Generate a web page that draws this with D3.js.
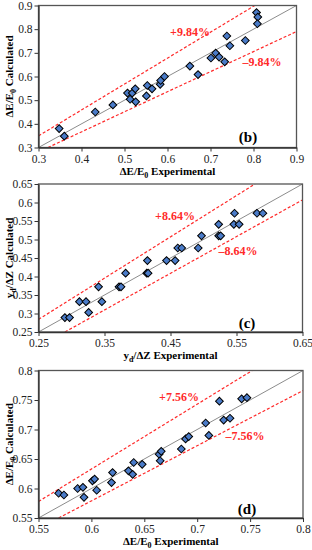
<!DOCTYPE html>
<html>
<head>
<meta charset="utf-8">
<script src="https://cdn.jsdelivr.net/npm/d3@7"></script>
<style>
body { margin: 0; background: #fff; }
svg { display: block; }
</style>
</head>
<body>
<svg width="312" height="550"></svg>
<script>
// panel (b): dE/E0
var ptsB = [
    [0.348,0.380],[0.360,0.348],[0.432,0.450],[0.473,0.480],[0.507,0.530],[0.513,0.504],
    [0.518,0.530],[0.525,0.548],[0.526,0.493],[0.551,0.518],[0.553,0.562],[0.564,0.548],
    [0.583,0.567],[0.584,0.583],[0.593,0.600],[0.652,0.644],[0.671,0.608],[0.701,0.678],
    [0.712,0.699],[0.720,0.682],[0.733,0.662],[0.738,0.771],[0.745,0.730],[0.781,0.752],
    [0.807,0.870],[0.810,0.851],[0.809,0.823]
];
var bandB = { upper: [[0.3,0.349],[0.803,0.9]], lower: [[0.322,0.3],[0.9,0.79]] };
var ticksB = [0.3,0.4,0.5,0.6,0.7,0.8,0.9];

// panel (c): yd/dZ
var ptsC = [
    [0.290,0.289],[0.297,0.289],[0.312,0.332],[0.322,0.332],[0.326,0.303],[0.341,0.372],
    [0.346,0.332],[0.372,0.372],[0.375,0.372],[0.382,0.409],[0.414,0.409],[0.416,0.409],
    [0.415,0.443],[0.444,0.443],[0.457,0.443],[0.461,0.477],[0.467,0.477],[0.492,0.477],
    [0.497,0.510],[0.523,0.510],[0.526,0.510],[0.523,0.541],[0.546,0.541],[0.554,0.541],
    [0.547,0.571],[0.581,0.571],[0.590,0.571]
];
var bandC = { upper: [[0.25,0.284],[0.578,0.65]], lower: [[0.29,0.25],[0.65,0.607]] };
var xTicksC = [0.25,0.35,0.45,0.55,0.65];
var yTicksC = [0.25,0.3,0.35,0.4,0.45,0.5,0.55,0.6,0.65];

// panel (d): dE/E0
var ptsD = [
    [0.569,0.592],[0.574,0.589],[0.587,0.600],[0.592,0.602],[0.593,0.585],[0.601,0.613],
    [0.603,0.616],[0.605,0.597],[0.619,0.610],[0.620,0.627],[0.635,0.630],[0.639,0.624],
    [0.640,0.644],[0.648,0.641],[0.664,0.658],[0.666,0.663],[0.665,0.647],[0.685,0.667],
    [0.689,0.684],[0.692,0.688],[0.708,0.711],[0.711,0.690],[0.721,0.748],[0.725,0.716],
    [0.731,0.719],[0.742,0.752],[0.747,0.754]
];
var bandD = { upper: [[0.55,0.578],[0.752,0.8]], lower: [[0.569,0.55],[0.8,0.766]] };
var xTicksD = [0.55,0.6,0.65,0.7,0.75,0.8];
var yTicksD = [0.55,0.6,0.65,0.7,0.75,0.8];

var svg = d3.select("svg");
var serif = "Times New Roman, Liberation Serif, DejaVu Serif, serif";

function fmt(d) {return String(+d.toFixed(2));}

// label with subscript parts: [text, isSub]
function richText(sel, parts, tail) {
    var sub = false;
    parts.forEach(function (p) {
        var t = sel.append("tspan").text(p[0]);
        if (p[1] && !sub) { t.attr("dy", 3).attr("font-size", 8); sub = true; }
        else if (!p[1] && sub) { t.attr("dy", -3); sub = false; }
    });
    var last = sel.append("tspan").text(tail);
    if (sub) last.attr("dy", -3);
}

function panel(cfg) {
    var x = d3.scaleLinear().domain(cfg.xDom).range([cfg.left, cfg.right]);
    var y = d3.scaleLinear().domain(cfg.yDom).range([cfg.bottom, cfg.top]);
    var g = svg.append("g").attr("font-family", serif);

    var clipId = "clip" + cfg.tag;
    svg.append("defs").append("clipPath").attr("id", clipId)
        .append("rect")
        .attr("x", cfg.left).attr("y", cfg.top)
        .attr("width", cfg.right - cfg.left).attr("height", cfg.bottom - cfg.top);

    var inner = g.append("g").attr("clip-path", "url(#" + clipId + ")");
    var line = d3.line().x(function (d) {return x(d[0]);}).y(function (d) {return y(d[1]);});

    // 1:1 line
    inner.append("path")
        .attr("d", line([[cfg.xDom[0], cfg.yDom[0]], [cfg.xDom[1], cfg.yDom[1]]]))
        .attr("stroke", "#8c8c8c").attr("stroke-width", 1).attr("fill", "none");

    [cfg.band.upper, cfg.band.lower].forEach(function (b) {
        inner.append("path")
            .attr("d", line(b))
            .attr("stroke", "#ff2a2a").attr("stroke-width", 1.2)
            .attr("stroke-dasharray", "3,2").attr("fill", "none");
    });

    inner.selectAll(".pt")
        .data(cfg.pts)
        .enter()
        .append("path")
        .attr("class", "pt")
        .attr("d", d3.symbol().type(d3.symbolSquare).size(30))
        .attr("transform", function (d) {return "translate(" + x(d[0]) + "," + y(d[1]) + ") rotate(45)";})
        .attr("fill", "#4a7bc8").attr("stroke", "#000").attr("stroke-width", 1);

    // frame
    g.append("rect")
        .attr("x", cfg.left).attr("y", cfg.top)
        .attr("width", cfg.right - cfg.left).attr("height", cfg.bottom - cfg.top)
        .attr("fill", "none").attr("stroke", "#555").attr("stroke-width", 1.3);

    var xAxis = g.append("g")
        .attr("transform", "translate(0," + cfg.bottom + ")")
        .call(d3.axisBottom(x).tickValues(cfg.xTicks).tickSize(4).tickSizeOuter(0).tickFormat(fmt));
    var yAxis = g.append("g")
        .attr("transform", "translate(" + cfg.left + ",0)")
        .call(d3.axisLeft(y).tickValues(cfg.yTicks).tickSize(4).tickSizeOuter(0).tickFormat(fmt));
    [xAxis, yAxis].forEach(function (a) {
        a.attr("font-family", serif).attr("font-size", 11.5);
        a.select(".domain").attr("stroke", "#333").attr("stroke-width", 1.3);
        a.selectAll(".tick line").attr("stroke", "#333");
        a.selectAll("text").attr("fill", "#222");
    });
    yAxis.selectAll("text").attr("x", -6);

    // axis titles
    var xt = g.append("text")
        .attr("x", (cfg.left + cfg.right) / 2).attr("y", cfg.bottom + 27)
        .attr("text-anchor", "middle")
        .attr("font-weight", "bold").attr("font-size", 11);
    richText(xt, cfg.title, " Experimental");

    var yt = g.append("text")
        .attr("transform", "translate(13," + (cfg.top + cfg.bottom) / 2 + ") rotate(-90)")
        .attr("text-anchor", "middle")
        .attr("font-weight", "bold").attr("font-size", 11);
    richText(yt, cfg.title, " Calculated");

    // band labels
    g.append("text")
        .attr("x", cfg.plusPos[0]).attr("y", cfg.plusPos[1])
        .attr("text-anchor", "middle").attr("fill", "#ff2a2a")
        .attr("font-weight", "bold").attr("font-size", 12)
        .text("+" + cfg.pct + "%");
    g.append("text")
        .attr("x", cfg.minusPos[0]).attr("y", cfg.minusPos[1])
        .attr("text-anchor", "middle").attr("fill", "#ff2a2a")
        .attr("font-weight", "bold").attr("font-size", 12)
        .text("\u2013" + cfg.pct + "%");
    g.append("text")
        .attr("x", cfg.tagPos[0]).attr("y", cfg.tagPos[1])
        .attr("text-anchor", "middle")
        .attr("font-weight", "bold").attr("font-size", 15)
        .text("(" + cfg.tag + ")");
}

panel({
    tag: "b", pts: ptsB, band: bandB, pct: "9.84",
    xDom: [0.3, 0.9], yDom: [0.3, 0.9], xTicks: ticksB, yTicks: ticksB,
    left: 38.5, right: 296.5, top: 5.5, bottom: 147.5,
    title: [["\u0394E/E", false], ["0", true]],
    plusPos: [190, 36], minusPos: [262, 66], tagPos: [248, 142]
});

panel({
    tag: "c", pts: ptsC, band: bandC, pct: "8.64",
    xDom: [0.25, 0.65], yDom: [0.25, 0.65], xTicks: xTicksC, yTicks: yTicksC,
    left: 38.5, right: 302.5, top: 184, bottom: 332,
    title: [["y", false], ["d", true], ["/\u0394Z", false]],
    plusPos: [175, 220], minusPos: [238, 255], tagPos: [247, 328]
});

panel({
    tag: "d", pts: ptsD, band: bandD, pct: "7.56",
    xDom: [0.55, 0.8], yDom: [0.55, 0.8], xTicks: xTicksD, yTicks: yTicksD,
    left: 38.5, right: 303, top: 370.5, bottom: 518,
    title: [["\u0394E/E", false], ["0", true]],
    plusPos: [179, 401], minusPos: [245, 440], tagPos: [247, 514]
});
</script>
</body>
</html>
